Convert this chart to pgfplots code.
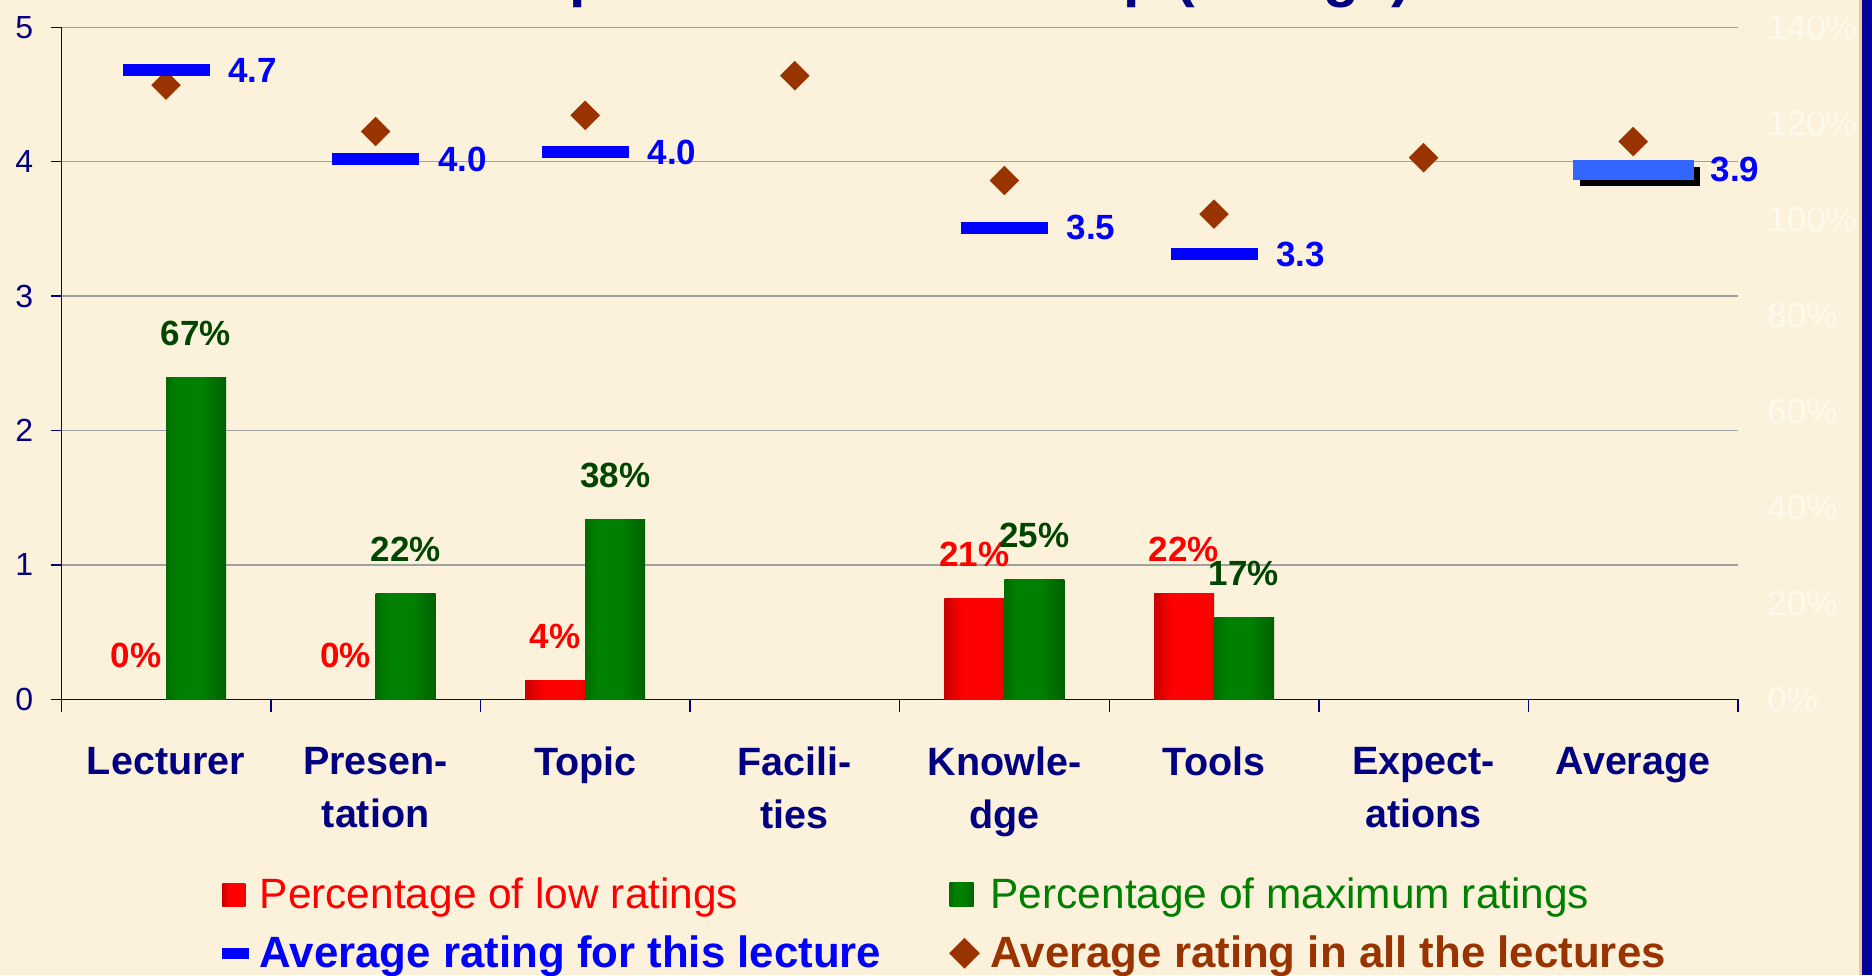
\documentclass[border=0pt]{standalone}
\usepackage{fontspec}
\setmainfont{Liberation Sans}
\usepackage{pgfplots}
\pgfplotsset{compat=1.18}

\definecolor{bg}{RGB}{252,242,219}
\definecolor{navy}{RGB}{0,0,128}
\definecolor{dgreen}{RGB}{0,70,0}
\definecolor{lgreen}{RGB}{0,128,0}
\definecolor{rbrown}{RGB}{153,51,0}
\definecolor{avgblue}{RGB}{51,102,255}
\definecolor{rlab}{RGB}{255,249,238}
\definecolor{gridgray}{RGB}{160,160,160}
\definecolor{border}{RGB}{0,0,153}
\definecolor{peach}{RGB}{245,195,155}
\definecolor{rdark}{RGB}{110,0,0}
\definecolor{rbright}{RGB}{255,0,0}
\definecolor{gdark}{RGB}{0,60,0}
\definecolor{gbright}{RGB}{0,128,0}

\pgfdeclarehorizontalshading{redbar}{100bp}{color(0bp)=(rdark); color(40bp)=(rbright); color(70bp)=(rbright); color(100bp)=(rdark)}
\pgfdeclarehorizontalshading{greenbar}{100bp}{color(0bp)=(gdark); color(35bp)=(gbright); color(55bp)=(gbright); color(100bp)=(gdark)}

\pgfdeclareplotmark{bdash}{\pgfpathrectangle{\pgfqpoint{-21.75pt}{-3pt}}{\pgfqpoint{43.5pt}{6pt}}\pgfusepathqfill}
\pgfdeclareplotmark{adash}{%
  \pgfsetfillcolor{black}%
  \pgfpathrectangle{\pgfqpoint{-26.75pt}{-8pt}}{\pgfqpoint{60pt}{9.5pt}}\pgfusepathqfill
  \pgfsetfillcolor{avgblue}%
  \pgfpathrectangle{\pgfqpoint{-30.25pt}{-5pt}}{\pgfqpoint{60.5pt}{10pt}}\pgfusepathqfill}
\pgfdeclareplotmark{diam}{\pgfpathmoveto{\pgfqpoint{0pt}{7.4pt}}\pgfpathlineto{\pgfqpoint{7.4pt}{0pt}}\pgfpathlineto{\pgfqpoint{0pt}{-7.4pt}}\pgfpathlineto{\pgfqpoint{-7.4pt}{0pt}}\pgfpathclose\pgfusepathqfill}

\pgfplotsset{
  barlab/.style 2 args={point meta=explicit symbolic, nodes near coords,
    every node near coord/.append style={anchor=base, yshift=16pt, xshift=#2, inner sep=0pt,
      font=\bfseries\fontsize{17.5}{17.5}\selectfont, text=#1}},
  redb/.style={ybar, bar width=30pt, bar shift=-15pt, draw=none, shading=redbar, barlab={red}{-15pt}},
  greenb/.style={ybar, bar width=30pt, bar shift=15pt, draw=none, shading=greenbar, barlab={dgreen}{15pt}},
}

\begin{document}
\begin{tikzpicture}[x=1pt,y=1pt]
\fill[bg] (0,0) rectangle (936,487.5);
\fill[peach] (929.5,0) rectangle (931,487.5);
\fill[border] (931,0) rectangle (936,487.5);
\node[anchor=base east, inner sep=0pt, font=\bfseries\fontsize{29.5}{29.5}\selectfont, text=navy] at (706,489.5) {Lecture compared with workshop (ratings)};

\begin{axis}[
  at={(30.6pt,137.85pt)}, anchor=south west, scale only axis,
  width=838.4pt, height=336pt, clip=false,
  xmin=-0.5, xmax=7.5, ymin=0, ymax=5,
  axis x line*=bottom, axis y line*=left,
  axis line style={navy, line width=0.7pt},
  xtick={0,...,7},
  xticklabels={Lecturer,{Presen-\\tation},Topic,{Facili-\\ties},{Knowle-\\dge},Tools,{Expect-\\ations},Average},
  minor xtick={-0.5,0.5,...,7.5},
  ytick={0,...,5},
  tick align=outside,
  major tick length=5pt, minor tick length=6.5pt,
  tick style={navy, line width=0.7pt},
  major x tick style={draw=none},
  ymajorgrids, grid style={gridgray, line width=0.7pt},
  /pgf/number format/assume math mode=true,
  yticklabel style={font=\fontsize{16}{16}\selectfont, text=navy, inner sep=0pt, xshift=-8.85pt},
  xticklabel style={font=\bfseries\fontsize{19.75}{26.5}\selectfont, text=navy, align=center, inner sep=0pt, yshift=-18.75pt},
]
\addplot[only marks, mark=diam, color=rbrown] table[row sep=\\] {
x y\\
0 4.57\\
1 4.225\\
2 4.345\\
3 4.64\\
4 3.86\\
5 3.61\\
6 4.03\\
7 4.15\\
};
\addplot[only marks, mark=bdash, color=blue, point meta=explicit symbolic, nodes near coords,
  every node near coord/.append style={anchor=west, inner sep=0pt, xshift=31pt,
    font=\bfseries\fontsize{17.5}{17.5}\selectfont, text=blue}]
  table[meta=lab, row sep=\\] {
x y lab\\
0 4.68 4.7\\
1 4.02 4.0\\
2 4.07 4.0\\
4 3.51 3.5\\
5 3.31 3.3\\
};
\addplot[only marks, mark=adash, color=avgblue, point meta=explicit symbolic, nodes near coords,
  every node near coord/.append style={anchor=west, inner sep=0pt, xshift=38.5pt,
    font=\bfseries\fontsize{17.5}{17.5}\selectfont, text=blue}]
  table[meta=lab, row sep=\\] {
x y lab\\
7 3.94 3.9\\
};
\end{axis}

\begin{axis}[
  at={(30.6pt,137.85pt)}, anchor=south west, scale only axis,
  width=838.4pt, height=336pt, clip=false,
  xmin=-0.5, xmax=7.5, ymin=0, ymax=140,
  axis x line=none, axis y line*=right,
  axis line style={draw=none},
  ytick={0,20,...,140},
  tick align=inside, major tick length=0pt, ytick style={draw=none},
  /pgf/number format/assume math mode=true,
  yticklabel={\pgfmathprintnumber{\tick}\%},
  yticklabel style={font=\fontsize{17.5}{17.5}\selectfont, text=rlab, anchor=west, inner sep=0pt, xshift=14.5pt},
  legend columns=2, legend cell align=left,
  legend style={draw=none, fill=none, inner sep=0pt, outer sep=0pt,
    at={(0.0959,-0.266)}, anchor=north west,
    font=\fontsize{21.2}{21.2}\selectfont,
    nodes={inner sep=0pt}, row sep=12pt,
    /tikz/every odd column/.append style={column sep=5.5pt},
    /tikz/every even column/.append style={column sep=34pt}},
]
% low ratings (red), one bar per plot so that each bar is shaded on its own
\addplot[redb, legend image code/.code={\shade[shading=redbar] (0pt,-5.75pt) rectangle (11.5pt,5.75pt);}]
  table[meta=lab, row sep=\\] {x y lab\\ 2 4 4\%\\};
\addlegendentry{\textcolor{red}{Percentage of low ratings}}
% maximum ratings (green)
\addplot[greenb, legend image code/.code={\shade[shading=greenbar] (0pt,-6pt) rectangle (12pt,6pt);}]
  table[meta=lab, row sep=\\] {x y lab\\ 0 67 67\%\\};
\addlegendentry{\textcolor{lgreen}{Percentage of maximum ratings}}
\addlegendimage{legend image code/.code={\fill[blue] (0pt,-2.5pt) rectangle (13pt,2.5pt);}}
\addlegendentry{\textcolor{blue}{\fontsize{21.9}{21.9}\selectfont\bfseries Average rating for this lecture}}
\addlegendimage{legend image code/.code={\fill[rbrown] (7.4pt,7.4pt) -- (14.8pt,0pt) -- (7.4pt,-7.4pt) -- (0pt,0pt) -- cycle;}}
\addlegendentry{\textcolor{rbrown}{\fontsize{21.9}{21.9}\selectfont\bfseries Average rating in all the lectures}}

\addplot[forget plot, ybar, bar width=30pt, bar shift=-15pt, draw=none, fill=none, barlab={red}{-15pt}]
  table[meta=lab, row sep=\\] {x y lab\\ 0 0 0\%\\ 1 0 0\%\\};
\addplot[forget plot, redb] table[meta=lab, row sep=\\] {x y lab\\ 4 21 21\%\\};
\addplot[forget plot, redb] table[meta=lab, row sep=\\] {x y lab\\ 5 22 22\%\\};
\addplot[forget plot, greenb] table[meta=lab, row sep=\\] {x y lab\\ 1 22 22\%\\};
\addplot[forget plot, greenb] table[meta=lab, row sep=\\] {x y lab\\ 2 37.5 38\%\\};
\addplot[forget plot, greenb] table[meta=lab, row sep=\\] {x y lab\\ 4 25 25\%\\};
\addplot[forget plot, greenb] table[meta=lab, row sep=\\] {x y lab\\ 5 17 17\%\\};
\end{axis}

\pgfresetboundingbox
\path[use as bounding box] (0,0) rectangle (936,487.5);
\end{tikzpicture}
\end{document}
